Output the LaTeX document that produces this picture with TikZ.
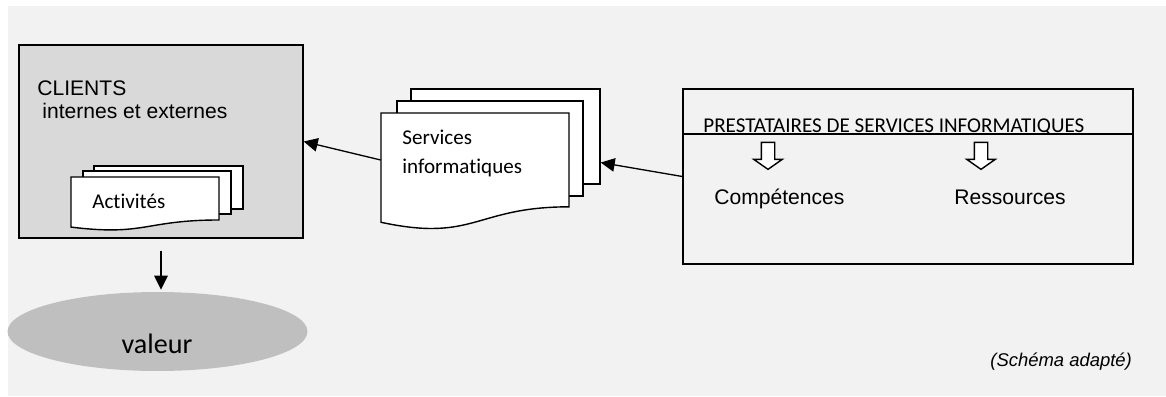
\documentclass[tikz,border=0pt]{standalone}
\usepackage{fontspec}
\setmainfont{Liberation Sans}
\newfontfamily\calibri[Ligatures={NoCommon}]{Carlito}
\usetikzlibrary{arrows.meta, calc, positioning, shapes.geometric, shapes.arrows}
\definecolor{panelgray}{HTML}{F2F2F2}
\definecolor{clientgray}{HTML}{D9D9D9}
\definecolor{valeurgray}{HTML}{BFBFBF}
% page with a wavy bottom edge: left, top, width, height
\newcommand{\docpage}[4]{%
  \draw[sheet] (#1,#2) -- ({#1+#3},#2) -- ({#1+#3},{#2+0.802*#4})
    .. controls ({#1+0.5*#3},{#2+0.802*#4}) and ({#1+0.5*#3},{#2+1.107*#4}) .. (#1,{#2+0.934*#4}) -- cycle;}

\begin{document}
\begin{tikzpicture}[x=0.02cm, y=-0.02cm, >={Triangle[length=0.28cm, width=0.27cm]},
    sheet/.style={draw, fill=white, line width=0.8pt},
    box/.style={draw, rectangle, line width=0.8pt, inner sep=0},
    txt/.style={inner sep=0, anchor=base west, font=\fontsize{12}{14}\selectfont},
    cal/.style={txt, font=\calibri\fontsize{12}{16.5}\selectfont},
    hollow/.style={single arrow, draw, fill=white, line width=0.8pt, inner sep=0.12cm,
        minimum height=0.54cm, single arrow head extend=0.15cm, single arrow tip angle=110}]

    \useasboundingbox (0,0) rectangle (1166,396);
    \fill[panelgray] (8,6) rectangle (1166,396);

    % clients
    \node[box, fill=clientgray, minimum width=5.68cm, minimum height=3.86cm] (clients) at (161,141.5) {};
    \node[txt] (cltitle) at (37,95) {CLIENTS};
    \node[txt] (clsub) at (42,118) {internes et externes};
    \node[sheet, minimum width=2.98cm, minimum height=0.86cm] (act3) at (168.5,187.5) {};
    \node[sheet, minimum width=2.96cm, minimum height=0.86cm] (act2) at (157,192.5) {};
    \docpage{71}{177}{148}{53.6}
    \node[cal] (act) at (92,208) {Activités};

    \node[ellipse, fill=valeurgray, minimum width=6cm, minimum height=1.58cm] (valeur) at (157.5,331.5) {};
    \node[txt, anchor=base, font=\calibri\fontsize{16}{19}\selectfont] (valtxt) at (157,353) {valeur};
    \draw[->, line width=0.75pt] ($(clients.south)+(0,12)$) -- ($(valeur.north -| clients.south)+(0,-2)$);

    % services
    \node[sheet, minimum width=3.78cm, minimum height=1.9cm] (srv3) at (505.5,136.5) {};
    \node[sheet, minimum width=3.72cm, minimum height=1.9cm] (srv2) at (490,148.5) {};
    \docpage{381}{113}{188}{117}
    \node[inner sep=0, minimum width=3.76cm, minimum height=1.88cm] (srv) at (475,160) {};
    \node[cal, align=left] (srvtxt) at (402,173) {Services\\informatiques};

    % prestataires
    \node[box, minimum width=9cm, minimum height=3.5cm] (presta) at (908,176.5) {};
    \draw[line width=0.8pt] (presta.west |- 0,134) -- (presta.east |- 0,134);
    \node[cal] (prtitle) at (703,132) {PRESTATAIRES DE SERVICES INFORMATIQUES};
    \node[hollow, rotate=-90] (arrcomp) at (768,153.5) {};
    \node[hollow, rotate=-90] (arrres) at (981,153.5) {};
    \node[txt] (comp) at (714,204) {Compétences};
    \node[txt] (res) at (954,204) {Ressources};

    \draw[->, line width=0.75pt] (srv.west) -- (clients.east);
    \draw[->, line width=0.75pt] (presta.west) -- ($(srv3.north east)!0.77!(srv3.south east)$);

    \node[txt, font=\itshape\fontsize{10.5}{12}\selectfont] (source) at (990,366) {(Schéma adapté)};
\end{tikzpicture}
\end{document}
